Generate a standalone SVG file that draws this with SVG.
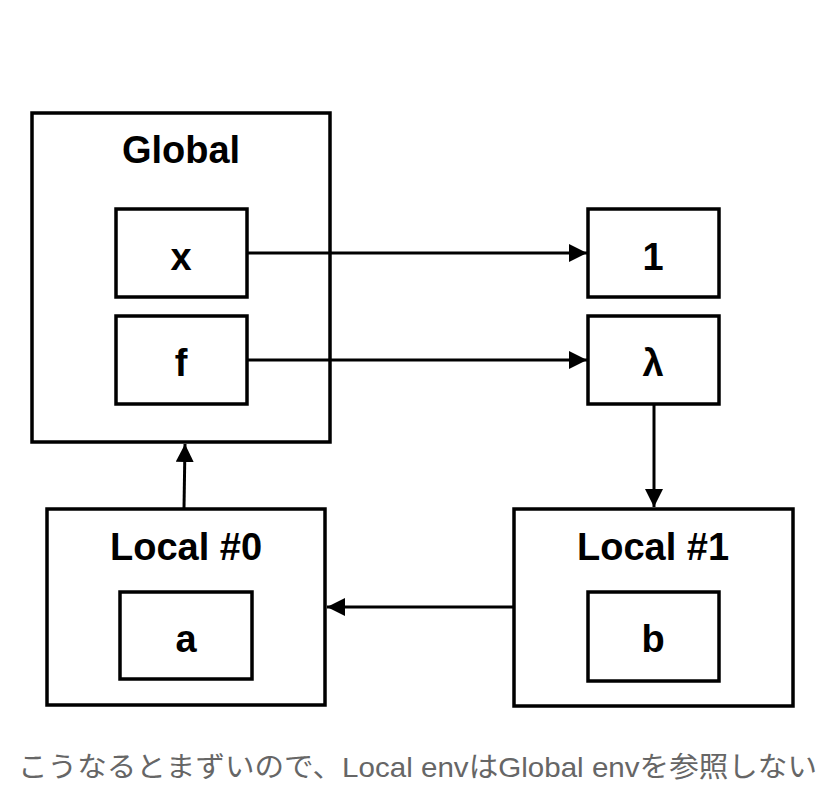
<svg xmlns="http://www.w3.org/2000/svg" width="834" height="786" viewBox="0 0 834 786">
<defs>
<style>
.box{fill:none;stroke:#000;stroke-width:3.5}
.lbl{font-family:"Liberation Sans",Arial,sans-serif;font-weight:bold;font-size:38px;fill:#000;text-anchor:middle}
.conn{fill:none;stroke:#000;stroke-width:3}
.cap{font-family:"Liberation Sans","Noto Sans CJK JP",sans-serif;font-size:28px;fill:#666}
</style>
<marker id="ah" viewBox="0 0 10 10" refX="10" refY="5" markerWidth="6" markerHeight="6" orient="auto" markerUnits="strokeWidth">
<path d="M0,0 L10,5 L0,10 Z" fill="#000"/>
</marker>
</defs>
<rect width="834" height="786" fill="#fff"/>
<g id="global">
<rect class="box" x="32" y="113" width="298" height="329"/>
<text class="lbl" x="181" y="163">Global</text>
</g>
<g id="var-x">
<rect class="box" x="116" y="209" width="131" height="88"/>
<text class="lbl" x="181" y="270">x</text>
</g>
<g id="var-f">
<rect class="box" x="116" y="316" width="131" height="88"/>
<text class="lbl" x="181" y="376">f</text>
</g>
<g id="val-1">
<rect class="box" x="588" y="209" width="131" height="88"/>
<text class="lbl" x="653" y="270">1</text>
</g>
<g id="val-lambda">
<rect class="box" x="588" y="316" width="131" height="88"/>
<text class="lbl" x="653" y="376">λ</text>
</g>
<g id="local0">
<rect class="box" x="47" y="509" width="278" height="196"/>
<text class="lbl" x="186" y="560">Local #0</text>
<rect class="box" x="120" y="592" width="132" height="87"/>
<text class="lbl" x="186" y="652">a</text>
</g>
<g id="local1">
<rect class="box" x="514" y="509" width="279" height="197"/>
<text class="lbl" x="653" y="560">Local #1</text>
<rect class="box" x="588" y="592" width="131" height="89"/>
<text class="lbl" x="653" y="652">b</text>
</g>
<g id="connectors">
<line class="conn" x1="248" y1="253" x2="587" y2="253" marker-end="url(#ah)"/>
<line class="conn" x1="248" y1="360" x2="587" y2="360" marker-end="url(#ah)"/>
<line class="conn" x1="654" y1="405" x2="654" y2="507" marker-end="url(#ah)"/>
<line class="conn" x1="184" y1="508" x2="185" y2="444" marker-end="url(#ah)"/>
<line class="conn" x1="513" y1="607" x2="327" y2="607" marker-end="url(#ah)"/>
</g>
<text class="cap" x="18" y="777" textLength="799" lengthAdjust="spacingAndGlyphs">こうなるとまずいので、Local envはGlobal envを参照しない</text>
</svg>
